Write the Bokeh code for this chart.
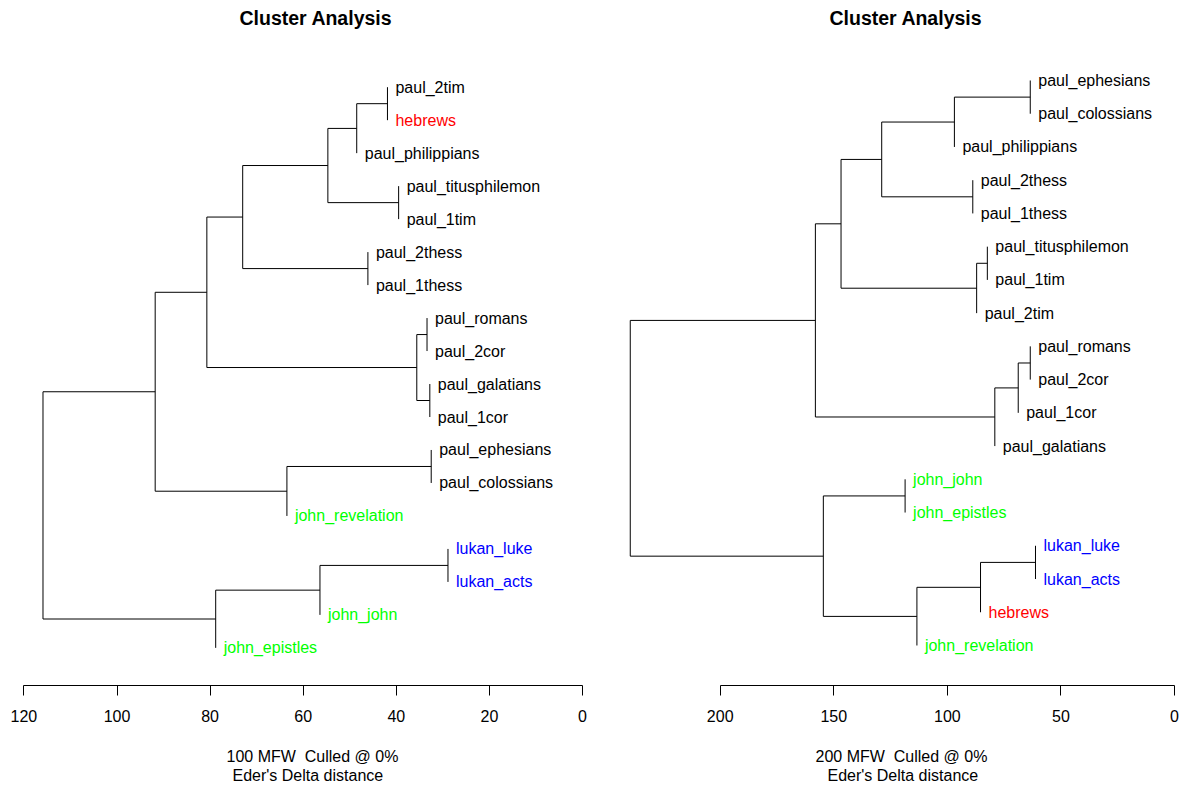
from bokeh.plotting import figure
from bokeh.models import Range1d, FixedTicker, ColumnDataSource, Title
from bokeh.layouts import row
from bokeh.embed import file_html
from bokeh.resources import INLINE
from bokeh.core.properties import value

FONT = "Liberation Sans"

# ---------------- data: left dendrogram (100 MFW) ----------------
left_leaves = ["paul_2tim", "hebrews", "paul_philippians", "paul_titusphilemon", "paul_1tim",
               "paul_2thess", "paul_1thess", "paul_romans", "paul_2cor", "paul_galatians",
               "paul_1cor", "paul_ephesians", "paul_colossians", "john_revelation",
               "lukan_luke", "lukan_acts", "john_john", "john_epistles"]
# merges: node n1, n2, ... joins child a and child b at height h
left_a = ["lukan_luke", "paul_ephesians", "paul_galatians", "paul_romans", "n4",
          "paul_titusphilemon", "paul_2tim", "paul_2thess", "n7", "n9",
          "n1", "n2", "n10", "n11", "n13", "n15", "n16"]
left_b = ["lukan_acts", "paul_colossians", "paul_1cor", "paul_2cor", "n3",
          "paul_1tim", "hebrews", "paul_1thess", "paul_philippians", "n6",
          "john_john", "john_revelation", "n8", "john_epistles", "n5", "n12", "n14"]
left_h = [28.9, 32.5, 32.8, 33.4, 35.6, 39.5, 41.9, 46.1, 48.5, 54.7,
          56.4, 63.5, 73.0, 78.8, 80.7, 91.8, 115.9]
left_ticks = [0, 20, 40, 60, 80, 100, 120]
left_sub1 = "100 MFW\u00a0 Culled @ 0%"

# ---------------- data: right dendrogram (200 MFW) ----------------
right_leaves = ["paul_ephesians", "paul_colossians", "paul_philippians", "paul_2thess", "paul_1thess",
                "paul_titusphilemon", "paul_1tim", "paul_2tim", "paul_romans", "paul_2cor",
                "paul_1cor", "paul_galatians", "john_john", "john_epistles", "lukan_luke",
                "lukan_acts", "hebrews", "john_revelation"]
right_a = ["lukan_luke", "paul_ephesians", "paul_romans", "n3", "n4",
           "paul_titusphilemon", "n1", "n6", "paul_2thess", "n2",
           "n7", "john_john", "n10", "n13", "n12",
           "n14", "n16"]
right_b = ["lukan_acts", "paul_colossians", "paul_2cor", "paul_1cor", "paul_galatians",
           "paul_1tim", "hebrews", "paul_2tim", "paul_1thess", "paul_philippians",
           "john_revelation", "john_epistles", "n9", "n8", "n11",
           "n5", "n15"]
right_h = [61.2, 63.5, 63.5, 68.8, 79.1, 82.4, 85.4, 87.1, 88.8, 96.9,
           113.4, 118.6, 128.9, 146.8, 154.6, 158.1, 239.6]
right_ticks = [0, 50, 100, 150, 200]
right_sub1 = "200 MFW\u00a0 Culled @ 0%"

sub2 = "Eder's Delta distance"
main_title = "Cluster Analysis"

group_colors = {"paul": "#000000", "hebrews": "#FF0000", "john": "#00FF00", "lukan": "#0000FF"}


def leaf_color(name):
    return group_colors[name.split("_")[0]]


def tree_layout(leaves, a_list, b_list, h_list):
    n = len(leaves)
    ypos = {name: float(n - i) for i, name in enumerate(leaves)}
    xpos = {}
    parent_h = {}
    for k, (a, b, h) in enumerate(zip(a_list, b_list, h_list)):
        nid = "n%d" % (k + 1)
        ypos[nid] = (ypos[a] + ypos[b]) / 2.0
        xpos[nid] = h
        parent_h[a] = h
        parent_h[b] = h
    x0, y0, x1, y1 = [], [], [], []
    for k, (a, b, h) in enumerate(zip(a_list, b_list, h_list)):
        x0.append(h); y0.append(ypos[a]); x1.append(h); y1.append(ypos[b])
        for c in (a, b):
            if c in xpos:
                x0.append(h); y0.append(ypos[c]); x1.append(xpos[c]); y1.append(ypos[c])
    seg = ColumnDataSource(dict(x0=x0, y0=y0, x1=x1, y1=y1))
    lab = ColumnDataSource(dict(x=[parent_h[l] for l in leaves],
                                y=[ypos[l] for l in leaves],
                                text=leaves,
                                color=[leaf_color(l) for l in leaves]))
    return seg, lab


def make_panel(leaves, a_list, b_list, h_list, ticks, sub1, xr, yr, title_off, sub1_off, sub2_off):
    seg, lab = tree_layout(leaves, a_list, b_list, h_list)
    p = figure(width=590, height=786, frame_width=590, frame_height=652,
               x_range=Range1d(*xr), y_range=Range1d(*yr),
               toolbar_location=None, output_backend="svg", y_axis_location=None,
               min_border_left=0, min_border_right=0, min_border_top=33, min_border_bottom=0,
               title=Title(text=main_title, align="left", offset=title_off, standoff=9,
                           text_font=FONT, text_font_size="19.5px", text_font_style="bold",
                           text_color="#000000"))
    p.outline_line_color = None
    p.xgrid.visible = False
    p.ygrid.visible = False
    p.background_fill_color = "#FFFFFF"
    p.border_fill_color = "#FFFFFF"
    p.segment("x0", "y0", "x1", "y1", source=seg, line_color="#000000", line_width=1)
    p.text("x", "y", text="text", source=lab, text_color="color", x_offset=8,
           text_align="left", text_baseline="middle",
           text_font=value(FONT), text_font_size="16px")
    ax = p.xaxis[0]
    ax.ticker = FixedTicker(ticks=ticks)
    ax.bounds = (min(ticks), max(ticks))
    ax.axis_line_color = "#000000"
    ax.major_tick_line_color = "#000000"
    ax.major_tick_out = 10
    ax.major_tick_in = 0
    ax.minor_tick_line_color = None
    ax.major_label_standoff = 14
    ax.major_label_text_font = FONT
    ax.major_label_text_font_size = "16px"
    ax.major_label_text_color = "#000000"
    # invisible spacer label to push the two caption lines down
    ax.axis_label = " "
    ax.axis_label_text_font_size = "2px"
    ax.axis_label_standoff = 16
    p.add_layout(Title(text=sub1, align="left", offset=sub1_off, standoff=0, text_font=FONT,
                       text_line_height=0.9,
                       text_font_size="16px", text_font_style="normal", text_color="#000000"), "below")
    p.add_layout(Title(text=sub2, align="left", offset=sub2_off, standoff=0, text_font=FONT,
                       text_line_height=0.9,
                       text_font_size="16px", text_font_style="normal", text_color="#000000"), "below")
    return p


p1 = make_panel(left_leaves, left_a, left_b, left_h, left_ticks, left_sub1,
                xr=(125.03, -1.72), yr=(-0.141, 19.628),
                title_off=239, sub1_off=226, sub2_off=232)
p2 = make_panel(right_leaves, right_a, right_b, right_h, right_ticks, right_sub1,
                xr=(257.1, -2.64), yr=(-0.204, 19.414),
                title_off=239, sub1_off=225, sub2_off=237)

layout = row(p1, p2)
open("out.html", "w").write(file_html(layout, INLINE))
